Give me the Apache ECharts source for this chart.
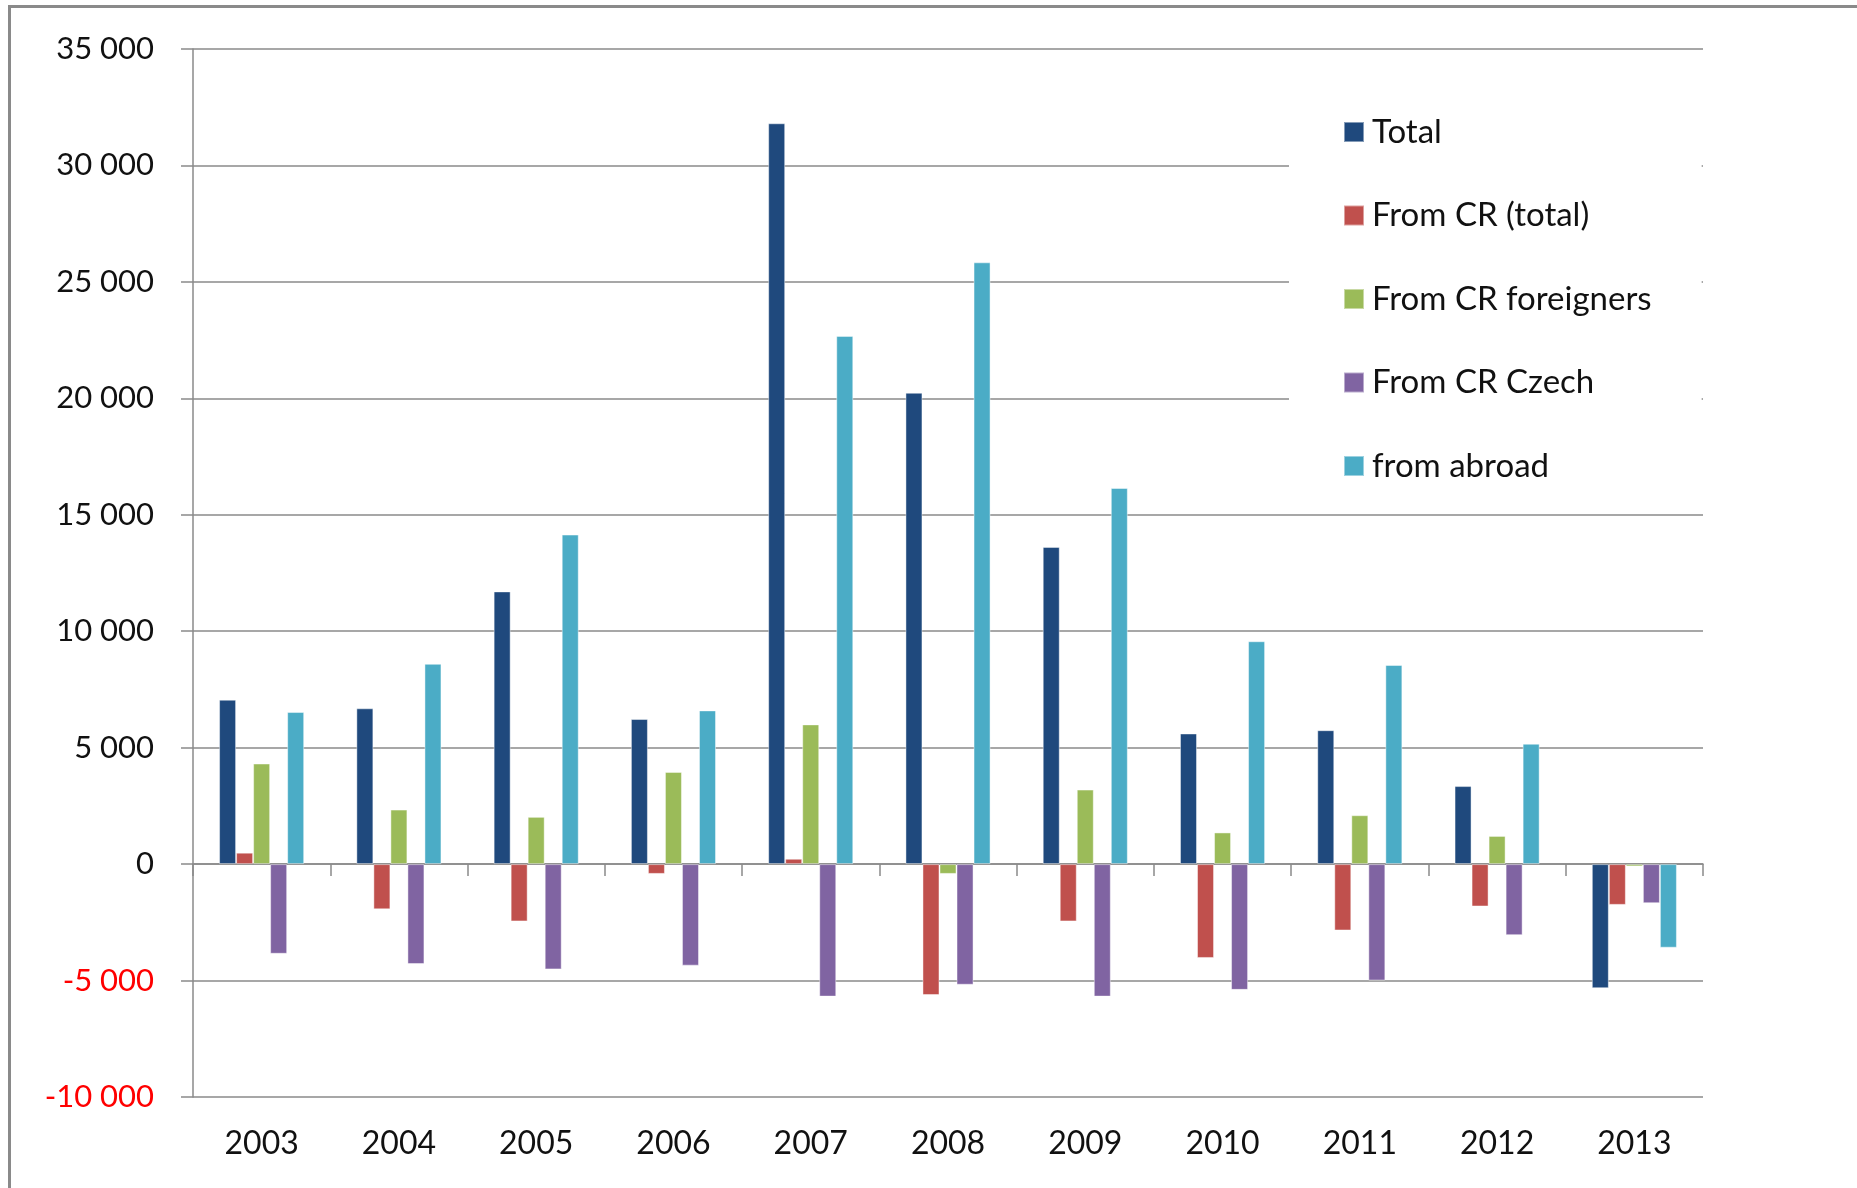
<!DOCTYPE html>
<html>
<head>
<meta charset="utf-8">
<script src="https://cdn.jsdelivr.net/npm/echarts@6/dist/echarts.min.js"></script>
<style>
  html, body { margin: 0; padding: 0; background: #fff; }
  #frame {
    position: absolute; left: 8px; top: 5px; right: 0; bottom: 0;
    border-top: 3px solid #8a8a8a; border-left: 3px solid #8a8a8a;
  }
  #chart { position: absolute; left: 0; top: 0; width: 1857px; height: 1188px; }
</style>
</head>
<body>
<div id="frame"></div>
<div id="chart"></div>
<script>
const years = ["2003", "2004", "2005", "2006", "2007", "2008", "2009", "2010", "2011", "2012", "2013"];
const total = [7060, 6690, 11710, 6230, 31810, 20240, 13620, 5610, 5750, 3350, -5330];
const fromCrTotal = [490, -1940, -2460, -420, 230, -5620, -2460, -4030, -2850, -1820, -1750];
const fromCrForeigners = [4320, 2340, 2030, 3960, 6000, -420, 3200, 1360, 2100, 1210, -100];
const fromCrCzech = [-3850, -4290, -4520, -4360, -5690, -5180, -5690, -5400, -5000, -3050, -1680];
const fromAbroad = [6530, 8600, 14150, 6600, 22680, 25840, 16150, 9570, 8550, 5170, -3590];

const seriesNames = ["Total", "From CR (total)", "From CR foreigners", "From CR Czech", "from abroad"];
const seriesData = [total, fromCrTotal, fromCrForeigners, fromCrCzech, fromAbroad];
const colors = ["#1f497d", "#c0504d", "#9bbb59", "#8064a2", "#4bacc6"];

const font = "Lato";
const gridColor = "#8a8a8a";

function fmt(v) {
  const s = String(Math.abs(v)).replace(/\B(?=(\d{3})+(?!\d))/g, " ");
  return v < 0 ? "-" + s : s;
}

const chart = echarts.init(document.getElementById("chart"));
chart.setOption({
  animation: false,
  color: colors,
  textStyle: { fontFamily: font },
  grid: { left: 193, right: 154, top: 49, bottom: 91 },
  legend: {
    orient: "vertical",
    left: 1289,
    top: 91,
    padding: [24, 50, 20, 54],
    backgroundColor: "#fff",
    icon: "rect",
    itemWidth: 20,
    itemHeight: 20,
    itemGap: 49.5,
    textStyle: { fontFamily: font, fontSize: 33, lineHeight: 34, color: "#111", padding: [0, 0, 0, 3] },
    data: seriesNames,
  },
  xAxis: [
    {
      type: "category",
      data: years,
      axisLine: { onZero: true, lineStyle: { color: gridColor, width: 1.5 } },
      axisTick: { show: true, length: 12, interval: 0, lineStyle: { color: gridColor, width: 1.5 } },
      axisLabel: { show: false },
    },
    {
      type: "category",
      data: years,
      position: "bottom",
      axisLine: { show: false, onZero: false },
      axisTick: { show: false },
      axisLabel: { show: true, interval: 0, margin: 31, fontSize: 32, fontFamily: font, color: "#111" },
    },
  ],
  yAxis: {
    type: "value",
    min: -10000,
    max: 35000,
    interval: 5000,
    axisLine: { show: true, lineStyle: { color: gridColor, width: 1.5 } },
    axisTick: { show: true, length: 12, lineStyle: { color: gridColor, width: 1.5 } },
    splitLine: { show: true, lineStyle: { color: gridColor, width: 1.5 } },
    axisLabel: {
      margin: 39,
      fontSize: 31,
      fontFamily: font,
      formatter: fmt,
      color: (v) => (Number(v) < 0 ? "#ff0000" : "#111"),
    },
  },
  series: seriesNames.map((name, i) => ({
    name,
    type: "bar",
    xAxisIndex: 0,
    data: seriesData[i],
    barGap: "0%",
    barCategoryGap: "38%",
    itemStyle: { color: colors[i], borderColor: "rgba(255,255,255,0.45)", borderWidth: 1 },
  })),
});
</script>
</body>
</html>
